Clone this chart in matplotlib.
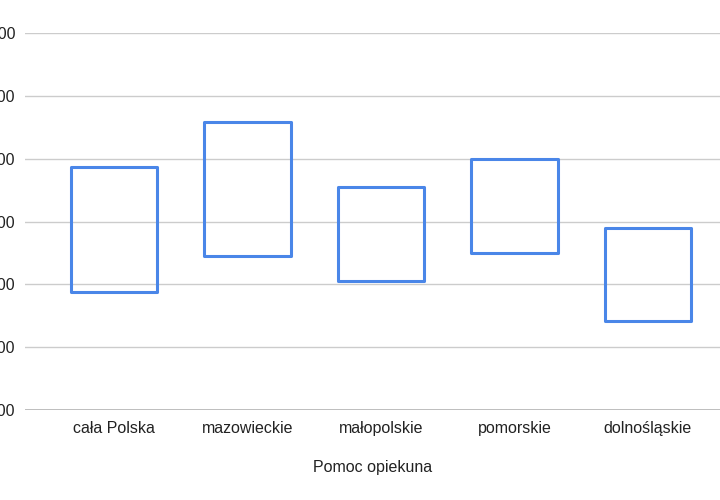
import numpy as np
import matplotlib.pyplot as plt

plt.rcParams['font.family'] = ['Liberation Sans', 'DejaVu Sans']

regions = ["cała Polska", "mazowieckie", "małopolskie", "pomorskie", "dolnośląskie"]
low_vals = [3940, 4225, 4030, 4250, 3710]
high_vals = [4935, 5290, 4775, 5000, 4450]
y_ticks = [3000, 3500, 4000, 4500, 5000, 5500, 6000]

fig = plt.figure(figsize=(7.2, 5.0), dpi=100)
ax = fig.add_axes([25 / 720, 90 / 500, 695 / 720, 377 / 500])

x = np.arange(len(regions))
heights = np.array(high_vals) - np.array(low_vals)
bars = ax.bar(x, heights, bottom=low_vals, width=0.65, facecolor='none',
              edgecolor='#4a86e8', linewidth=2.2, zorder=3)
for b in bars:
    b.set_joinstyle('round')

ax.set_ylim(3000, 6000)
ax.set_xlim(-0.667, 4.54)
ax.set_yticks(y_ticks)
ax.set_yticklabels([str(v) for v in y_ticks])
ax.set_xticks(x)
ax.set_xticklabels(regions)
ax.grid(axis='y', color='#cccccc', linewidth=1.0, zorder=0)
ax.axhline(3000, color='#b0b0b0', linewidth=1.2, zorder=1)

for s in ax.spines.values():
    s.set_visible(False)
ax.tick_params(axis='both', length=0, labelsize=11.5, colors='#222222')
ax.tick_params(axis='y', pad=7)
ax.tick_params(axis='x', pad=8)
ax.set_xlabel("Pomoc opiekuna", fontsize=11.5, color='#222222', labelpad=17)

fig.savefig("out.png", dpi=100)
